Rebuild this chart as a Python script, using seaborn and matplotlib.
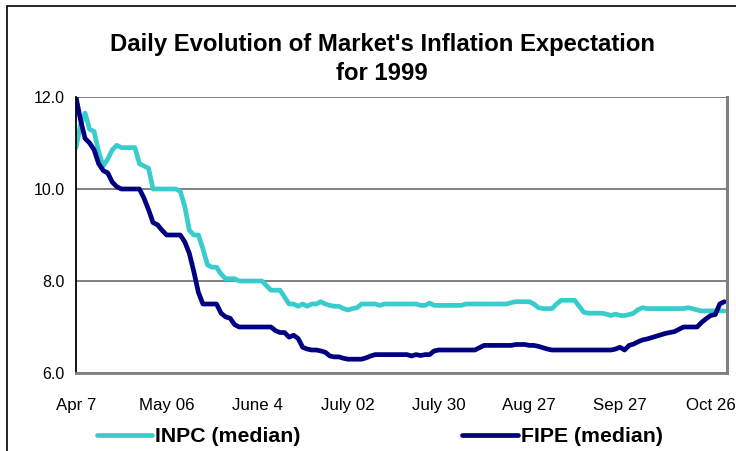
import numpy as np
import pandas as pd
import matplotlib
matplotlib.use("Agg")
import matplotlib.pyplot as plt
from matplotlib.patches import Rectangle
import seaborn as sns

# daily medians (business days from Apr 7 to end of Oct 1999)
inpc = [10.9, 11.4, 11.65, 11.3, 11.25, 10.8, 10.5, 10.65, 10.85, 10.95,
        10.9, 10.9, 10.9, 10.9, 10.55, 10.5, 10.45, 10.0, 10.0, 10.0,
        10.0, 10.0, 10.0, 9.95, 9.62, 9.1, 9.0, 9.0, 8.7, 8.35,
        8.3, 8.3, 8.15, 8.05, 8.05, 8.05, 8.0, 8.0, 8.0, 8.0,
        8.0, 8.0, 7.9, 7.8, 7.8, 7.8, 7.65, 7.5, 7.5, 7.45,
        7.5, 7.45, 7.5, 7.5, 7.55, 7.5, 7.47, 7.45, 7.45, 7.4,
        7.37, 7.4, 7.42, 7.5, 7.5, 7.5, 7.5, 7.47, 7.5, 7.5,
        7.5, 7.5, 7.5, 7.5, 7.5, 7.5, 7.47, 7.47, 7.52, 7.47,
        7.47, 7.47, 7.47, 7.47, 7.47, 7.47, 7.5, 7.5, 7.5, 7.5,
        7.5, 7.5, 7.5, 7.5, 7.5, 7.5, 7.53, 7.55, 7.55, 7.55,
        7.55, 7.5, 7.42, 7.4, 7.4, 7.4, 7.5, 7.58, 7.58, 7.58,
        7.58, 7.45, 7.32, 7.3, 7.3, 7.3, 7.3, 7.28, 7.25, 7.28,
        7.25, 7.25, 7.27, 7.3, 7.38, 7.42, 7.4, 7.4, 7.4, 7.4,
        7.4, 7.4, 7.4, 7.4, 7.4, 7.42, 7.4, 7.37, 7.35, 7.35,
        7.35, 7.35, 7.35, 7.35]

fipe = [12.0, 11.5, 11.1, 11.0, 10.85, 10.55, 10.4, 10.35, 10.15, 10.05,
        10.0, 10.0, 10.0, 10.0, 10.0, 9.8, 9.55, 9.27, 9.22, 9.1,
        9.0, 9.0, 9.0, 9.0, 8.85, 8.6, 8.2, 7.75, 7.5, 7.5,
        7.5, 7.5, 7.3, 7.22, 7.19, 7.05, 7.0, 7.0, 7.0, 7.0,
        7.0, 7.0, 7.0, 7.0, 6.92, 6.88, 6.88, 6.78, 6.82, 6.75,
        6.56, 6.52, 6.5, 6.5, 6.48, 6.45, 6.37, 6.35, 6.35, 6.32,
        6.3, 6.3, 6.3, 6.3, 6.33, 6.37, 6.4, 6.4, 6.4, 6.4,
        6.4, 6.4, 6.4, 6.4, 6.37, 6.4, 6.38, 6.4, 6.4, 6.48,
        6.5, 6.5, 6.5, 6.5, 6.5, 6.5, 6.5, 6.5, 6.5, 6.55,
        6.6, 6.6, 6.6, 6.6, 6.6, 6.6, 6.6, 6.62, 6.62, 6.62,
        6.6, 6.6, 6.58, 6.55, 6.52, 6.5, 6.5, 6.5, 6.5, 6.5,
        6.5, 6.5, 6.5, 6.5, 6.5, 6.5, 6.5, 6.5, 6.5, 6.52,
        6.56, 6.5, 6.6, 6.63, 6.68, 6.72, 6.74, 6.77, 6.8, 6.83,
        6.86, 6.88, 6.9, 6.95, 7.0, 7.0, 7.0, 7.0, 7.1, 7.18,
        7.25, 7.27, 7.5, 7.55]

tick_labels = ["Apr 7", "May 06", "June 4", "July 02", "July 30",
               "Aug 27", "Sep 27", "Oct 26"]
series_names = ["INPC (median)", "FIPE (median)"]
colors = {"INPC (median)": "#38CCCC", "FIPE (median)": "#000080"}

df = pd.DataFrame({
    "day": np.tile(np.arange(len(inpc)), 2),
    "value": inpc + fipe,
    "series": [series_names[0]] * len(inpc) + [series_names[1]] * len(fipe),
})

sns.set_style("white")
plt.rcParams["font.family"] = ["Liberation Sans", "DejaVu Sans"]
plt.rcParams["text.color"] = "black"
plt.rcParams["xtick.color"] = "black"
plt.rcParams["ytick.color"] = "black"

fig = plt.figure(figsize=(7.36, 4.51), dpi=100)
ax = fig.add_axes([76 / 736, 1 - 373 / 451, (727 - 76) / 736, (373 - 97) / 451])

sns.lineplot(data=df, x="day", y="value", hue="series", palette=colors,
             linewidth=3.4, ax=ax, legend=False)

ax.set_xlim(0, 143.6)
ax.set_ylim(6.0, 12.0)
ax.set_yticks([6.0, 8.0, 10.0, 12.0])
ax.set_yticklabels([f"{v:.1f}" for v in [6.0, 8.0, 10.0, 12.0]])
ax.set_xticks(np.arange(0, 160, 20))
ax.set_xticklabels(tick_labels)
ax.set_xlabel("")
ax.set_ylabel("")

ax.grid(axis="y", color="#808080", linewidth=1.4)
ax.grid(axis="x", visible=False)
ax.set_axisbelow(True)
ax.spines["top"].set_visible(False)
ax.spines["right"].set_color("#808080")
ax.spines["right"].set_linewidth(2.2)
ax.spines["bottom"].set_color("#808080")
ax.spines["bottom"].set_linewidth(2.0)
ax.spines["left"].set_color("#000000")
ax.spines["left"].set_linewidth(1.3)

ax.tick_params(axis="x", direction="out", length=5, width=1.2,
               color="#000000", labelcolor="#000000", labelsize=12.2, pad=13)
ax.tick_params(axis="y", direction="out", length=6, width=1.2,
               color="#000000", labelcolor="#000000", labelsize=11.5, pad=2)

fig.text(382 / 736, 1 - 45 / 451, "Daily Evolution of Market's Inflation Expectation",
         ha="center", va="center", fontsize=17.2, fontweight="bold", color="black")
fig.text(382 / 736, 1 - 73 / 451, "for 1999",
         ha="center", va="center", fontsize=17.2, fontweight="bold", color="black")

# legend entries below the plot
handles = [plt.Line2D([], [], color=colors[n], linewidth=3.4) for n in series_names]
leg = fig.legend(handles, series_names, loc="center left",
                 bbox_to_anchor=(97 / 736, 1 - 437 / 451), ncol=2, frameon=False,
                 borderpad=0, borderaxespad=0,
                 handlelength=2.6, handletextpad=0.15, columnspacing=7.6,
                 prop={"weight": "bold", "size": 15.3})
for t in leg.get_texts():
    t.set_color("black")

fig.patches.append(Rectangle((7 / 736, -0.05), 1.2, 1 - 6 / 451 + 0.05,
                             transform=fig.transFigure, fill=False,
                             edgecolor="#000000", linewidth=1.2))

fig.savefig("out.png", dpi=100)
